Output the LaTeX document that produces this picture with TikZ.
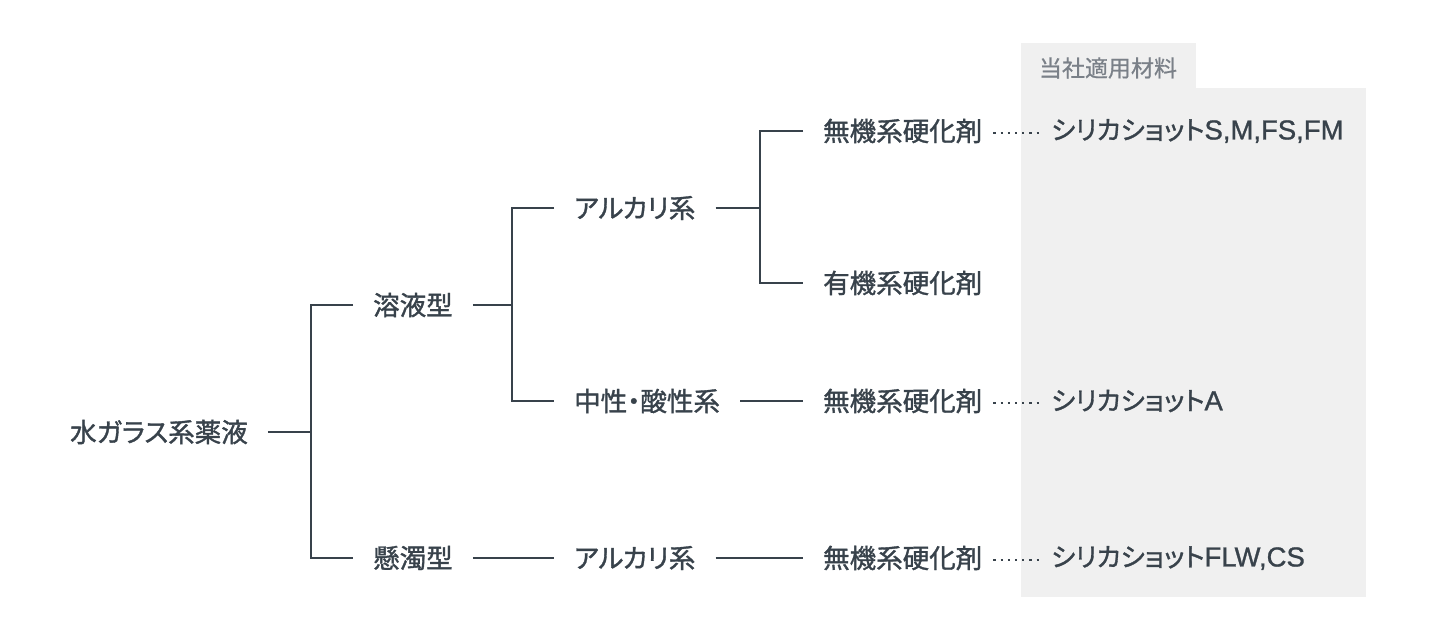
\documentclass[tikz,border=0pt]{standalone}
\usepackage{fontspec}
\setmainfont{Noto Sans CJK JP}[RawFeature=+palt, FakeBold=1.3]
\newfontfamily\lat{Liberation Sans}[FakeBold=1.0]
\newfontfamily\hdrfont{Noto Sans CJK JP}[RawFeature=+palt, FakeBold=0.6]
\definecolor{txt}{HTML}{38424B}
\definecolor{boxgray}{HTML}{F0F0F0}
\definecolor{hdr}{HTML}{7A8088}
\tikzset{
  lbl/.style={anchor=west, inner xsep=20pt, inner ysep=0pt, text=txt, font=\fontsize{26.5}{30}\selectfont},
  prod/.style={anchor=west, inner xsep=0pt, inner ysep=0pt, text=txt, font=\fontsize{26}{30}\selectfont},
  conn/.style={draw=txt, line width=2pt},
  dots/.style={draw=txt, line width=2.2pt, dash pattern=on 2.2pt off 5pt},
}
\newcommand{\latin}[1]{{\lat\fontsize{27.5}{30}\selectfont #1}}
\begin{document}
\begin{tikzpicture}[x=1pt,y=-1pt]
\useasboundingbox (0,0) rectangle (1436,640);
% background panel
\fill[boxgray] (1021,88) rectangle (1366,597);
\fill[boxgray] (1021,43) rectangle (1196,88);
\node[text=hdr, font=\hdrfont\fontsize{23}{26}\selectfont, inner sep=0pt] (hd) at (1108,68) {当社適用材料};
% nodes
\node[lbl] (root) at (50,432) {水ガラス系薬液};
\node[lbl] (yoeki) at (353,305) {溶液型};
\node[lbl] (kendaku) at (353,558) {懸濁型};
\node[lbl] (alk1) at (554,208) {アルカリ系};
\node[lbl] (neut) at (554,401) {中性・酸性系};
\node[lbl] (alk2) at (554,558) {アルカリ系};
\node[lbl] (inorg1) at (803,131) {無機系硬化剤};
\node[lbl] (org) at (803,283) {有機系硬化剤};
\node[lbl] (inorg2) at (803,401) {無機系硬化剤};
\node[lbl] (inorg3) at (803,558) {無機系硬化剤};
\node[prod] (p1) at (1051,131) {シリカショット\latin{S,M,FS,FM}};
\node[prod] (p2) at (1051,401) {シリカショット\latin{A}};
\node[prod] (p3) at (1051,558) {シリカショット\latin{FLW,CS}};
% junctions
\coordinate (j1) at (311,432);
\coordinate (j2) at (512,305);
\coordinate (j3) at (760,208);
% connectors
\draw[conn] (root.east) -- (j1);
\draw[conn] (yoeki.west) -| (j1) |- (kendaku.west);
\draw[conn] (yoeki.east) -- (j2);
\draw[conn] (alk1.west) -| (j2) |- (neut.west);
\draw[conn] (alk1.east) -- (j3);
\draw[conn] (inorg1.west) -| (j3) |- (org.west);
\draw[conn] (neut.east) -- (inorg2.west);
\draw[conn] (kendaku.east) -- (alk2.west);
\draw[conn] (alk2.east) -- (inorg3.west);
% dotted leaders
\draw[dots] ([xshift=-9pt,yshift=-2pt]inorg1.east) -- ([xshift=-8pt,yshift=-2pt]p1.west);
\draw[dots] ([xshift=-9pt,yshift=-2pt]inorg2.east) -- ([xshift=-8pt,yshift=-2pt]p2.west);
\draw[dots] ([xshift=-9pt,yshift=-2pt]inorg3.east) -- ([xshift=-8pt,yshift=-2pt]p3.west);
\end{tikzpicture}
\end{document}
